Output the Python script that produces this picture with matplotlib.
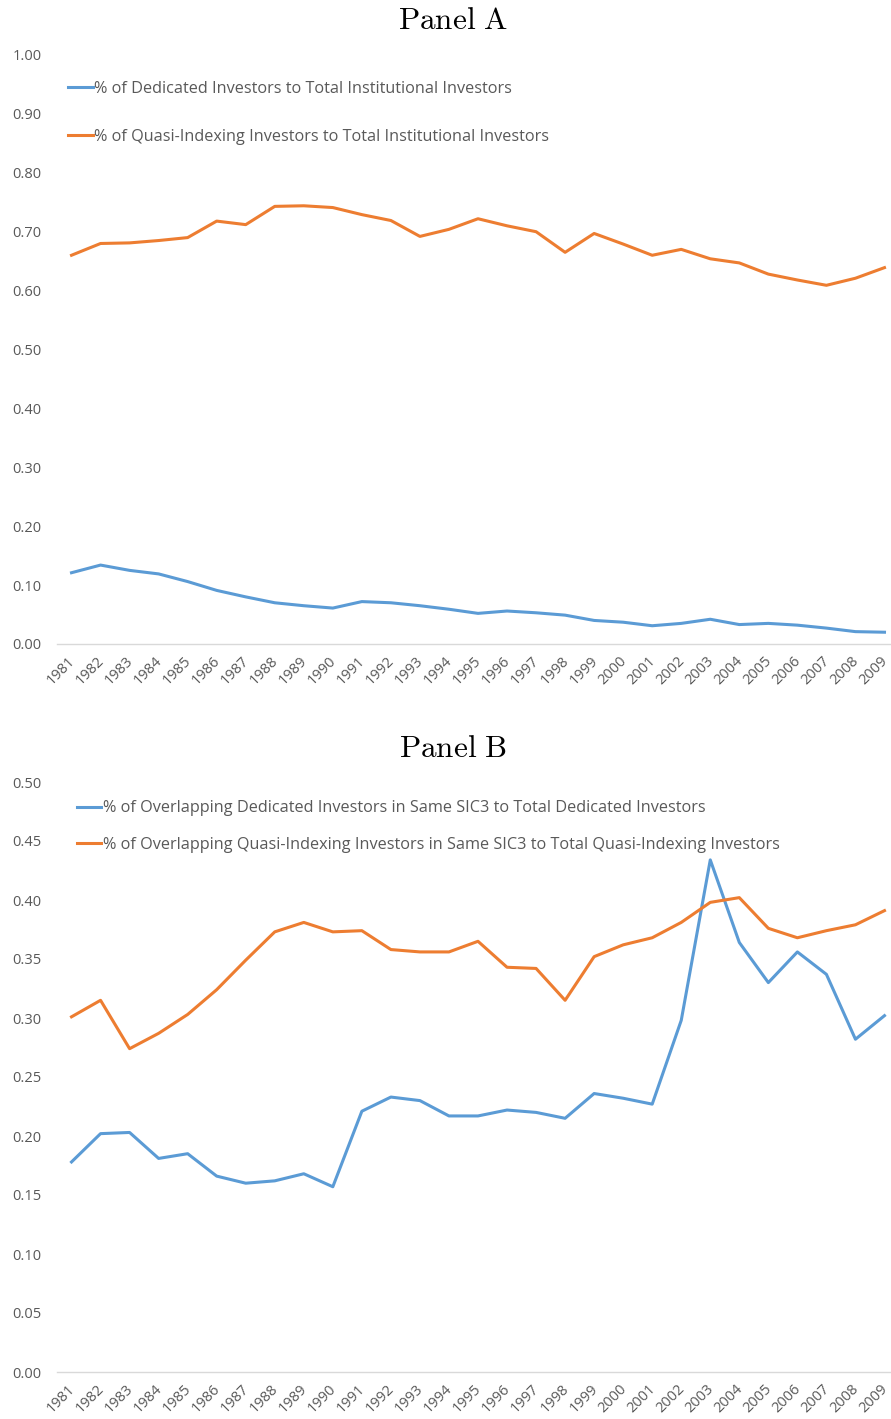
import numpy as np
import matplotlib.pyplot as plt
from matplotlib.transforms import ScaledTranslation

# data
years = [str(y) for y in range(1981, 2010)]

ded_a = [0.121, 0.134, 0.125, 0.119, 0.106, 0.091, 0.080, 0.070, 0.065, 0.061,
         0.072, 0.070, 0.065, 0.059, 0.052, 0.056, 0.053, 0.049, 0.040, 0.037,
         0.031, 0.035, 0.042, 0.033, 0.035, 0.032, 0.027, 0.021, 0.020]
qix_a = [0.660, 0.680, 0.681, 0.685, 0.690, 0.718, 0.712, 0.743, 0.744, 0.741,
         0.729, 0.719, 0.692, 0.704, 0.722, 0.710, 0.700, 0.665, 0.697, 0.679,
         0.660, 0.670, 0.654, 0.647, 0.628, 0.618, 0.609, 0.621, 0.639]

ded_b = [0.178, 0.202, 0.203, 0.181, 0.185, 0.166, 0.160, 0.162, 0.168, 0.157,
         0.221, 0.233, 0.230, 0.217, 0.217, 0.222, 0.220, 0.215, 0.236, 0.232,
         0.227, 0.298, 0.434, 0.364, 0.330, 0.356, 0.337, 0.282, 0.302]
qix_b = [0.301, 0.315, 0.274, 0.287, 0.303, 0.324, 0.349, 0.373, 0.381, 0.373,
         0.374, 0.358, 0.356, 0.356, 0.365, 0.343, 0.342, 0.315, 0.352, 0.362,
         0.368, 0.381, 0.398, 0.402, 0.376, 0.368, 0.374, 0.379, 0.391]

labels_a = ["% of Dedicated Investors to Total Institutional Investors",
            "% of Quasi-Indexing Investors to Total Institutional Investors"]
labels_b = ["% of Overlapping Dedicated Investors in Same SIC3 to Total Dedicated Investors",
            "% of Overlapping Quasi-Indexing Investors in Same SIC3 to Total Quasi-Indexing Investors"]

BLUE = "#5B9BD5"
ORANGE = "#ED7D31"
GREY = "#595959"

plt.rcParams['font.family'] = ['Open Sans', 'DejaVu Sans']
plt.rcParams['mathtext.fontset'] = 'cm'

fig = plt.figure(figsize=(8.91, 14.19), dpi=100)
W, H = 891.0, 1419.0


def make_axes(top_px, bottom_px):
    left_px, right_px = 57.0, 899.0
    return fig.add_axes([left_px / W, 1 - bottom_px / H,
                         (right_px - left_px) / W, (bottom_px - top_px) / H])


def style(ax, ymax, step):
    x = np.arange(len(years))
    ax.set_xlim(-0.5, len(years) - 0.5)
    ax.set_ylim(0, ymax)
    ticks = np.arange(0, ymax + step / 2, step)
    ax.set_yticks(ticks)
    ax.set_yticklabels([f"{v:.2f}" for v in ticks])
    ax.set_xticks(x)
    ax.set_xticklabels(years, rotation=45, ha='right', va='top',
                       rotation_mode='anchor')
    ax.tick_params(axis='both', length=0, colors=GREY, labelsize=10.5)
    ax.tick_params(axis='y', pad=11)
    ax.tick_params(axis='x', pad=7)
    # nudge year labels a little left so 2009 stays inside the picture
    shift = ScaledTranslation(-4 / 100, 0, fig.dpi_scale_trans)
    for lbl in ax.get_xticklabels():
        lbl.set_transform(lbl.get_transform() + shift)
    for s in ['top', 'right', 'left']:
        ax.spines[s].set_visible(False)
    ax.spines['bottom'].set_color('#d9d9d9')
    ax.spines['bottom'].set_linewidth(1.0)
    ax.patch.set_alpha(0)


# Panel A
axa = make_axes(55, 644)
x = np.arange(len(years))
axa.plot(x, ded_a, color=BLUE, lw=2.2, label=labels_a[0])
axa.plot(x, qix_a, color=ORANGE, lw=2.2, label=labels_a[1])
style(axa, 1.0, 0.1)
axa.legend(loc='upper left', bbox_to_anchor=(0.0, 0.975), frameon=False,
           fontsize=11.7, labelcolor=GREY, handlelength=1.5, handletextpad=0.1,
           labelspacing=1.95, borderaxespad=0.3)
fig.text(453 / W, 1 - 21 / H, r'$\mathrm{Panel\ A}$', ha='center', va='center',
         fontsize=22.5)

# Panel B
axb = make_axes(782, 1372)
axb.plot(x, ded_b, color=BLUE, lw=2.2, label=labels_b[0])
axb.plot(x, qix_b, color=ORANGE, lw=2.2, label=labels_b[1])
style(axb, 0.5, 0.05)
axb.legend(loc='upper left', bbox_to_anchor=(0.01, 0.988), frameon=False,
           fontsize=11.7, labelcolor=GREY, handlelength=1.5, handletextpad=0.1,
           labelspacing=1.25, borderaxespad=0.3)
fig.text(453 / W, 1 - 749 / H, r'$\mathrm{Panel\ B}$', ha='center', va='center',
         fontsize=22.5)

fig.savefig('out.png', dpi=100)
